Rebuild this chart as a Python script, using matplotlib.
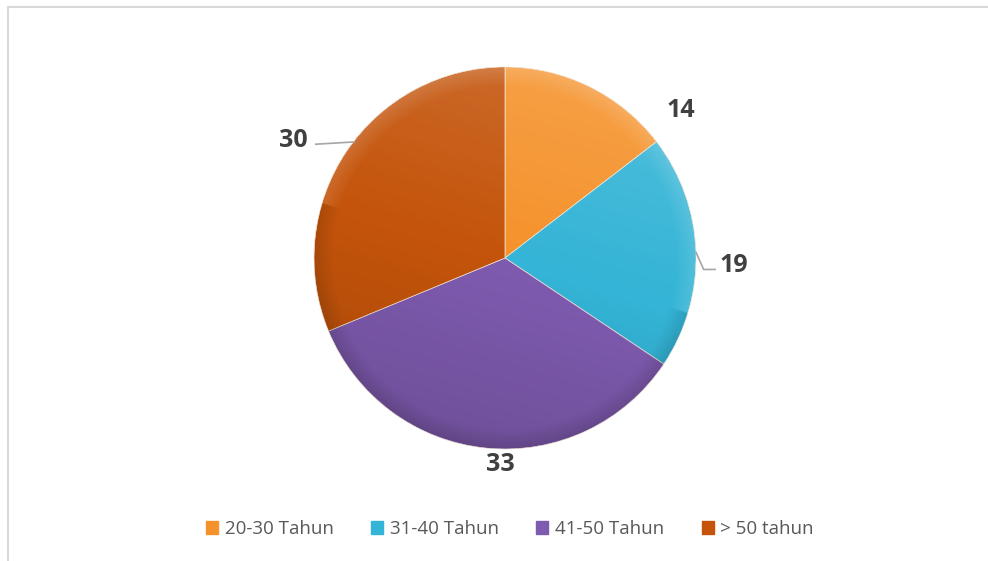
import matplotlib.pyplot as plt
import numpy as np
from matplotlib.patches import Circle

categories = ["20-30 Tahun", "31-40 Tahun", "41-50 Tahun", "> 50 tahun"]
values = [14, 19, 33, 30]
colors = ["#F5922B", "#34B4D6", "#7F5BB0", "#C4540B"]

# label placement: (angle in degrees, radius as fraction of pie radius)
label_pos = [(40, 1.20), (-1.8, 1.20), (-91.4, 1.08), (151, 1.27)]
leader = [False, True, False, True]

fig = plt.figure(figsize=(9.88, 5.61), dpi=100)
fig.patch.set_facecolor("white")

# light frame on top and left (the rest is cut off in the original)
fig.add_artist(plt.Line2D([8 / 988, 8 / 988], [0, 1 - 7 / 561], color="#D9D9D9", lw=1.5))
fig.add_artist(plt.Line2D([8 / 988, 1], [1 - 7 / 561, 1 - 7 / 561], color="#D9D9D9", lw=1.5))

r_px = 191
cx, cy = 505, 258
w, h = 2 * r_px / 988, 2 * r_px / 561
ax = fig.add_axes([cx / 988 - w / 2, 1 - cy / 561 - h / 2, w, h])

wedges, _ = ax.pie(
    values,
    colors=colors,
    startangle=90,
    counterclock=False,
    radius=1,
    wedgeprops=dict(edgecolor="#F2E6DA", linewidth=0.5),
)

# soft shading to imitate the bevelled look
yy, xx = np.mgrid[-1:1:400j, -1:1:400j]
shade = 0.35 * (yy + 0.3 * xx)
img = np.zeros((400, 400, 4))
img[..., :3] = np.where(shade[..., None] > 0, 1.0, 0.0)
img[..., 3] = np.clip(np.abs(shade) * 0.35, 0, 0.25)
rim = np.sqrt(xx ** 2 + yy ** 2)
img[..., 3] += np.clip((rim - 0.9) * 1.2, 0, 0.12) * (rim <= 1)
im = ax.imshow(img, extent=(-1, 1, -1, 1), origin="lower", zorder=3)
im.set_clip_path(Circle((0, 0), 1, transform=ax.transData))

for val, (ang, rad), has_line in zip(values, label_pos, leader):
    t = np.deg2rad(ang)
    tx, ty = rad * np.cos(t), rad * np.sin(t)
    ax.text(tx, ty, str(val), ha="center", va="center", fontsize=18,
            fontweight="bold", color="#404040", family=["Open Sans", "DejaVu Sans"])
    if has_line:
        if ang > 90:
            ax.plot([tx + 0.12, 1.0 * np.cos(np.deg2rad(144)) + 0.02],
                    [ty - 0.02, np.sin(np.deg2rad(144)) + 0.02],
                    color="#A6A6A6", lw=1.2, zorder=4)
        else:
            ax.plot([1.0, 1.04, 1.10], [0.03, -0.06, -0.06],
                    color="#A6A6A6", lw=1.2, zorder=4, clip_on=False)

ax.set_xlim(-1, 1)
ax.set_ylim(-1, 1)
ax.set_aspect("equal")
ax.axis("off")

handles = [plt.Rectangle((0, 0), 1, 1, color=c) for c in colors]
fig.legend(handles, categories, loc="center", bbox_to_anchor=(0.516, 1 - 529 / 561),
           ncol=4, frameon=False, handlelength=0.65, handleheight=0.65,
           handletextpad=0.35, columnspacing=2.0,
           prop=dict(family="Open Sans", size=13.5), labelcolor="#595959")

fig.savefig("out.png", dpi=100)
